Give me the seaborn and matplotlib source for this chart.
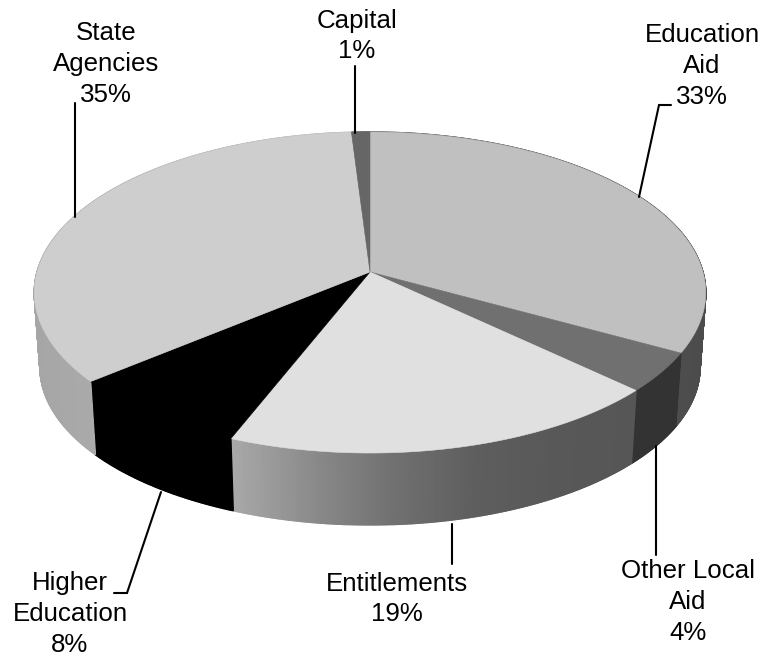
import numpy as np
import matplotlib
matplotlib.use("Agg")
import matplotlib.pyplot as plt
import seaborn as sns

# Budget shares, clockwise from twelve o'clock
categories = ["Education\nAid", "Other Local\nAid", "Entitlements", "Higher\nEducation", "State\nAgencies", "Capital"]
shares = [33, 4, 19, 8, 35, 1]
top_colors = ["#c0c0c0", "#707070", "#e0e0e0", "#000000", "#cecece", "#666666"]
side_ramps = [
    ["#585858", "#4c4c4c"],
    ["#333333", "#333333"],
    ["#a8a8a8", "#8a8a8a", "#707070", "#5e5e5e", "#585858", "#565656"],
    ["#000000", "#000000"],
    ["#a6a6a6", "#bcbcbc"],
    ["#555555", "#555555"],
]

# Label centres and leader-line paths, in figure pixels
label_xy = [(702, 66), (688, 602), (397, 599), (70, 614), (106, 64), (357, 36)]
leaders = [
    [(671, 105), (659, 105), (639, 197)],
    [(656, 446), (656, 555)],
    [(452, 524), (452, 564)],
    [(114, 593), (127, 593), (161, 492)],
    [(75, 103), (75, 217)],
    [(355, 66), (355, 133)],
]

# Projection of the tilted disc
CX, CY = 370, 272
RX, RY = 333, 157.9
TILT = 0.1277
BOTTOM_CY = 347
BOTTOM_SCALE = 0.983


def rim(theta, cy=CY, scale=1.0):
    u, v = np.sin(theta), np.cos(theta)
    s = scale / (1 + TILT * v)
    return CX + RX * u * s, cy - RY * v * s


sns.set_theme(style="white", rc={"font.family": ["Liberation Sans", "DejaVu Sans"]})
fig, ax = plt.subplots(figsize=(7.63, 6.58), dpi=100)
ax.set_position([0, 0, 1, 1])
ax.set_xlim(0, 763)
ax.set_ylim(658, 0)
ax.axis("off")

edges = 2 * np.pi * np.concatenate([[0], np.cumsum(shares)]) / sum(shares)

# Side wall: narrow strips shaded across each slice
for i in range(len(shares)):
    thetas = np.linspace(edges[i], edges[i + 1], max(int(shares[i] * 16), 6))
    xs = rim(thetas)[0]
    palette = sns.blend_palette(side_ramps[i], 128)
    lo, hi = xs.min(), xs.max()
    for a, b in zip(thetas[:-1], thetas[1:]):
        tx, ty = rim(np.array([a, b]))
        bx, by = rim(np.array([b, a]), BOTTOM_CY, BOTTOM_SCALE)
        frac = (0.5 * (tx[0] + tx[1]) - lo) / max(hi - lo, 1)
        shade = palette[int(np.clip(frac, 0, 1) * 127)]
        ax.fill(np.r_[tx, bx], np.r_[ty, by], facecolor=shade, edgecolor=shade,
                linewidth=1.0, zorder=2)

# Top face
for i in range(len(shares)):
    thetas = np.linspace(edges[i], edges[i + 1], 120)
    x, y = rim(thetas)
    ax.fill(np.r_[CX, x], np.r_[CY, y], facecolor=top_colors[i],
            edgecolor=top_colors[i], linewidth=0.4, zorder=3)

# Labels with their leader lines
for name, share, (lx, ly), path in zip(categories, shares, label_xy, leaders):
    ax.text(lx, ly, f"{name}\n{share}%", ha="center", va="center",
            fontsize=18.6, color="black", linespacing=1.36, zorder=5)
    px, py = zip(*path)
    ax.plot(px, py, color="black", lw=1.5, solid_joinstyle="miter", zorder=4)

fig.savefig("out.png", dpi=100)
